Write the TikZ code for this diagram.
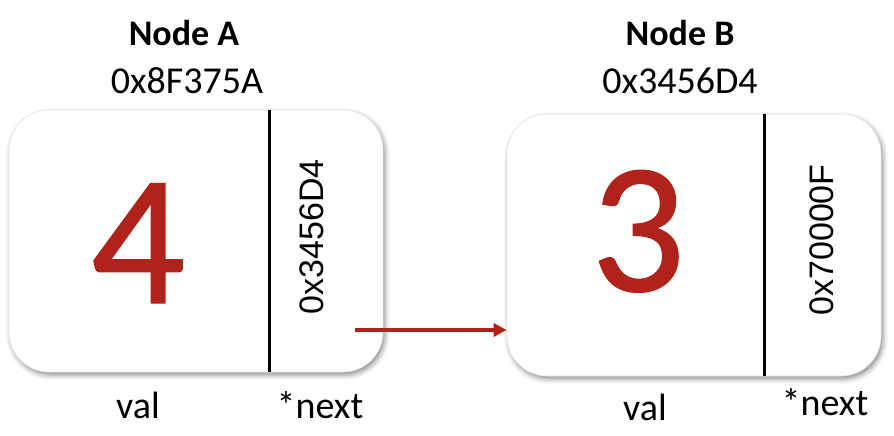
\documentclass[tikz,border=0pt]{standalone}
\usepackage{fontspec}
\setmainfont{Carlito}
\newfontfamily\addrfont{Liberation Sans}
\newfontfamily\digitfont[FakeBold=0.8]{Carlito}
\usepackage{tikz}
\usetikzlibrary{positioning, arrows.meta, shadows.blur}
\definecolor{valred}{HTML}{B0231B}
\tikzset{x=1pt, y=-1pt, >={Triangle[length=13pt, width=13pt]},
  cell/.style={rectangle, rounded corners=40pt, minimum width=374pt, minimum height=262pt, fill=white, draw=gray!20, line width=0.6pt,
    blur shadow={shadow xshift=2pt, shadow yshift=-3pt, shadow blur radius=5pt, shadow opacity=45}},
  divider/.style={line width=3.5pt, black},
  digit/.style={text=valred, font=\digitfont\fontsize{186}{190}\selectfont},
  ptr/.style={rotate=90, font=\addrfont\fontsize{34}{36}\selectfont},
  title/.style={font=\bfseries\fontsize{36}{38}\selectfont},
  link/.style={->, line width=3.5pt, valred}}

\begin{document}
\begin{tikzpicture}[every node/.style={inner sep=0pt, font=\fontsize{38}{40}\selectfont}]
	\useasboundingbox (0,0) rectangle (894,436);
	% the two list nodes
	\node[cell] (A) at (196,241) {};
	\node[cell] (B) at (694,245) {};
	\draw[divider] ([xshift=261pt]A.north west) -- ([xshift=261pt]A.south west);
	\draw[divider] ([xshift=258pt]B.north west) -- ([xshift=258pt]B.south west);
	\node[digit, anchor=base] (valA) at (138,303) {4};
	\node[digit, anchor=base] (valB) at (638,291) {3};
	\node[ptr] (ptrA) at (312,237) {0x3456D4};
	\node[ptr] (ptrB) at (822,240) {0x70000F};
	% names and addresses
	\node[title, anchor=base] (nameA) at (184,46) {Node A};
	\node[below=21pt of nameA, xshift=3pt] (addrA) {0x8F375A};
	\node[title, anchor=base] (nameB) at (680,46) {Node B};
	\node[below=21pt of nameB] (addrB) {0x3456D4};
	% field labels
	\node[anchor=base] (fieldA) at (138,418) {val};
	\node[anchor=base] (linkA) at (320,418) {*next};
	\node[anchor=base] (fieldB) at (645,420) {val};
	\node[anchor=base] (linkB) at (825,415) {*next};
	\coordinate (tailA) at (355,330);
	\draw[link] (tailA) -- ([yshift=-85pt]B.west);
\end{tikzpicture}
\end{document}
